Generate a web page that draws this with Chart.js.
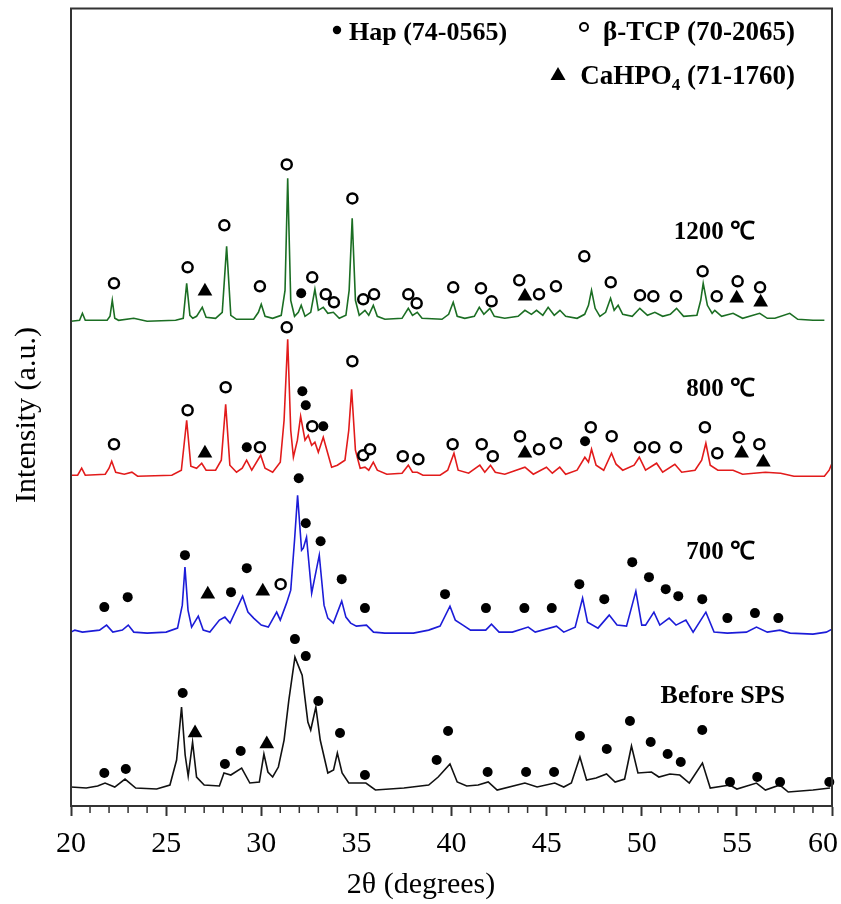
<!DOCTYPE html>
<html>
<head>
<meta charset="utf-8">
<script src="https://cdn.jsdelivr.net/npm/chart.js@4.4.1/dist/chart.umd.min.js"></script>
<style>
html,body{margin:0;padding:0;background:#fff}
canvas{display:block}
</style>
</head>
<body>
<canvas id="xrd" width="841" height="904"></canvas>
<script>
// XRD patterns, 2θ vs intensity (offset stacked, arbitrary units)
const xTicks=[20,25,30,35,40,45,50,55,60];

const tr1200=[[20.0,485],[20.45,486],[20.6,493],[20.75,486],[21.9,486],[22.05,490],[22.17,506],[22.3,488],[22.5,486],[23.3,488],[24.0,485],[25.5,486],[25.9,488],[26.08,523],[26.25,491],[26.4,488],[26.6,490],[26.9,499],[27.1,489],[27.6,488],[27.95,494],[28.18,560],[28.4,491],[28.7,487],[29.6,487],[29.85,494],[30.0,502],[30.2,490],[30.6,488],[31.05,491],[31.25,516],[31.39,628],[31.55,506],[31.75,490],[31.95,494],[32.1,501],[32.3,490],[32.6,494],[32.82,517],[33.0,496],[33.26,499],[33.5,493],[33.79,494],[34.1,488],[34.45,491],[34.62,516],[34.78,588],[34.95,506],[35.15,491],[35.45,496],[35.65,491],[35.89,501],[36.1,490],[36.5,487],[37.4,488],[37.73,498],[37.95,491],[38.2,494],[38.45,488],[39.5,487],[39.85,492],[40.09,504],[40.3,490],[40.7,488],[41.2,490],[41.46,499],[41.7,492],[42.02,498],[42.25,490],[42.8,488],[43.5,490],[43.86,496],[44.2,492],[44.47,496],[44.8,491],[45.08,499],[45.4,491],[45.7,496],[46.0,490],[46.6,488],[47.0,492],[47.2,501],[47.36,516],[47.55,498],[47.8,490],[48.1,494],[48.36,508],[48.55,496],[48.76,501],[49.0,492],[49.5,490],[49.9,498],[50.3,491],[50.69,494],[51.1,490],[51.5,492],[51.83,498],[52.2,490],[52.9,491],[53.1,506],[53.23,523],[53.45,501],[53.7,493],[53.84,496],[54.2,490],[54.8,493],[55.3,488],[56.2,493],[56.6,488],[57.0,488],[57.78,493],[58.2,487],[59.0,486],[59.6,486]];

const tr800=[[20.0,331],[20.35,331],[20.56,338],[20.75,331],[21.8,332],[22.0,338],[22.14,345],[22.35,334],[22.8,332],[23.2,334],[23.5,330],[25.3,331],[25.8,336],[26.08,386],[26.3,340],[26.6,338],[26.87,343],[27.1,336],[27.6,336],[27.9,346],[28.13,402],[28.35,341],[28.7,334],[29.0,338],[29.23,346],[29.5,336],[29.97,351],[30.2,338],[30.6,334],[31.0,344],[31.2,386],[31.39,467],[31.55,376],[31.69,349],[31.9,366],[32.07,390],[32.3,366],[32.47,371],[32.65,361],[32.82,364],[33.0,354],[33.26,369],[33.45,356],[33.7,339],[34.0,341],[34.4,346],[34.6,376],[34.75,417],[34.95,356],[35.2,338],[35.45,339],[35.65,336],[35.89,344],[36.1,336],[36.6,332],[37.4,333],[37.73,341],[37.95,334],[38.2,334],[38.5,331],[39.4,331],[39.8,336],[40.13,353],[40.35,336],[40.9,333],[41.49,341],[41.75,334],[42.05,341],[42.3,334],[42.8,332],[43.86,339],[44.3,332],[44.99,339],[45.3,333],[45.69,339],[46.0,332],[46.6,336],[47.01,349],[47.2,344],[47.36,357],[47.6,341],[48.0,336],[48.41,353],[48.65,342],[49.0,336],[49.6,341],[49.87,349],[50.2,336],[50.78,343],[51.1,334],[51.74,342],[52.1,334],[52.8,336],[53.15,346],[53.37,363],[53.6,341],[54.0,336],[54.8,336],[55.3,332],[56.5,334],[57.3,333],[58.0,330],[59.6,330],[59.85,336],[60.0,343]];

const tr700=[[20.0,174],[20.2,176],[20.6,174],[21.5,176],[21.87,181],[22.2,174],[22.7,176],[23.01,181],[23.3,174],[24.0,173],[25.0,174],[25.6,178],[25.85,201],[25.99,239],[26.15,196],[26.34,179],[26.69,190],[26.95,176],[27.3,174],[27.8,186],[28.09,189],[28.36,183],[29.02,210],[29.3,194],[29.6,188],[30.0,181],[30.37,179],[30.81,194],[31.0,186],[31.33,203],[31.55,216],[31.75,266],[31.91,311],[32.12,256],[32.21,258],[32.38,269],[32.65,213],[33.05,251],[33.3,201],[33.5,188],[33.79,183],[34.23,205],[34.45,189],[34.7,183],[35.0,180],[35.53,181],[35.9,174],[36.5,173],[38.0,173],[38.8,176],[39.4,180],[39.92,200],[40.2,186],[40.6,181],[41.0,176],[41.8,176],[42.1,182],[42.5,174],[43.2,174],[44.03,179],[44.4,174],[45.52,180],[45.9,174],[46.5,179],[46.89,208],[47.15,184],[47.7,178],[48.29,191],[48.7,181],[49.2,180],[49.69,215],[50.0,181],[50.2,181],[50.64,194],[50.95,181],[51.44,188],[51.8,181],[52.32,186],[52.7,174],[53.37,194],[53.8,174],[54.5,173],[55.5,174],[56.03,179],[56.6,174],[57.26,176],[57.8,173],[59.0,172],[59.7,174],[60.0,177]];

const trBefore=[[20.0,19],[20.8,18],[21.4,20],[21.79,23],[22.3,19],[22.84,27],[23.4,18],[24.5,17],[25.2,21],[25.55,46],[25.81,99],[26.0,51],[26.16,30],[26.39,64],[26.6,29],[27.0,21],[27.8,20],[28.04,33],[28.4,31],[28.97,38],[29.4,23],[29.9,24],[30.14,52],[30.35,34],[30.6,29],[30.9,39],[31.2,66],[31.45,106],[31.77,149],[32.0,138],[32.15,131],[32.45,84],[32.6,76],[32.87,99],[33.1,66],[33.5,33],[33.8,36],[34.0,53],[34.25,33],[34.6,23],[35.5,23],[36.0,16],[37.5,18],[38.8,21],[39.3,29],[39.92,42],[40.3,24],[40.8,20],[41.4,21],[41.93,24],[42.4,16],[43.86,23],[44.5,19],[45.43,23],[45.9,19],[46.3,23],[46.75,49],[47.1,26],[47.6,28],[48.15,32],[48.6,24],[49.1,27],[49.46,60],[49.8,33],[50.51,34],[50.9,29],[51.48,32],[52.0,31],[52.5,23],[53.19,43],[53.6,18],[54.63,21],[55.0,17],[56.03,23],[56.5,16],[57.26,21],[57.7,14],[59.0,16],[59.9,18]];

// phase markers: Hap = filled circle, β-TCP = open circle, CaHPO4 = triangle
const hapMarks=[[32.10,513],
  [29.24,359],[32.16,415],[32.34,401],[33.26,380],[47.02,365],
  [21.75,199],[22.98,209],[25.99,251],[28.41,214],[29.24,238],[31.97,328],[32.34,283],[33.12,265],[34.23,227],[35.45,198],[39.66,212],[41.81,198],[43.83,198],[45.27,198],[46.72,222],[48.03,207],[49.50,244],[50.38,229],[51.26,217],[51.92,210],[53.18,207],[54.50,188],[55.95,193],[57.18,188],
  [21.75,33],[22.88,37],[25.87,113],[28.09,42],[28.92,55],[31.77,167],[32.34,150],[33.00,105],[34.14,73],[35.45,31],[39.22,46],[39.82,75],[41.90,34],[43.92,34],[45.39,34],[46.75,70],[48.16,57],[49.38,85],[50.47,64],[51.36,52],[52.05,44],[53.18,76],[54.64,24],[56.07,29],[57.27,24],[59.86,24]];

const tcpMarks=[[22.26,523],[26.13,539],[28.06,581],[29.93,520],[31.34,642],[32.68,529],[33.39,512],[33.82,504],[34.79,608],[35.36,507],[35.93,512],[37.73,512],[38.17,503],[40.09,519],[41.55,518],[42.11,505],[43.56,526],[44.60,512],[45.49,520],[46.98,550],[48.37,524],[49.91,511],[50.61,510],[51.80,510],[53.20,535],[53.94,510],[55.04,525],[56.22,519],
  [22.26,362],[26.13,396],[28.13,419],[29.93,359],[31.34,479],[32.68,380],[34.79,445],[35.36,351],[35.72,357],[37.44,350],[38.26,347],[40.06,362],[41.59,362],[42.17,350],[43.60,370],[44.60,357],[45.49,363],[47.32,379],[48.42,370],[49.91,359],[50.66,359],[51.80,359],[53.32,379],[53.97,353],[55.11,369],[56.18,362],
  [31.02,222]];

const dcpMarks=[[27.04,515],[43.86,510],[54.99,508],[56.25,504],
  [27.04,353],[43.86,353],[55.25,353],[56.39,344],
  [27.19,212],[30.08,215],
  [26.52,73],[30.29,62]];

const traceColors=["#1b6e23","#e21b1b","#1c1cd8","#111111"];
const sampleLabels=[["1200 ℃",755,233],["800 ℃",755,390],["700 ℃",755,553],["Before SPS",785,696]];

const SERIF='"Liberation Serif","Times New Roman",serif';
const pts=a=>a.map(([x,y])=>({x,y}));

function lineSet(d,c){return{data:pts(d),showLine:true,borderColor:c,borderWidth:1.6,pointRadius:0,tension:0,fill:false,order:2}}

const ds=[
  lineSet(tr1200,traceColors[0]),lineSet(tr800,traceColors[1]),lineSet(tr700,traceColors[2]),lineSet(trBefore,traceColors[3]),
  {data:pts(hapMarks),pointStyle:"circle",pointRadius:5,backgroundColor:"#000",borderWidth:0,showLine:false,clip:false,order:0},
  {data:pts(tcpMarks),pointStyle:"circle",pointRadius:5,backgroundColor:"#fff",borderColor:"#000",borderWidth:2.5,showLine:false,clip:false,order:0},
  {data:pts(dcpMarks),pointStyle:"triangle",pointRadius:8.5,backgroundColor:"#000",borderWidth:0,showLine:false,clip:false,order:0}
];

const decor={id:"decor",afterDraw(chart){
  const {ctx,chartArea:a,scales:{x}}=chart;
  ctx.save();
  // frame
  ctx.strokeStyle="#333";ctx.lineWidth=2;
  ctx.strokeRect(a.left,a.top,a.right-a.left,a.bottom-a.top);
  // minor ticks
  ctx.lineWidth=1.5;
  for(let d=21;d<60;d++){if(d%5===0)continue;const px=x.getPixelForValue(d);ctx.beginPath();ctx.moveTo(px,a.bottom);ctx.lineTo(px,a.bottom+7);ctx.stroke()}
  // tick labels (last one kept inside the canvas)
  ctx.fillStyle="#000";ctx.font="30px "+SERIF;ctx.textAlign="center";ctx.textBaseline="middle";
  xTicks.forEach(v=>{const w=ctx.measureText(String(v)).width;let px=x.getPixelForValue(v);if(px+w/2>838)px=838-w/2;ctx.fillText(String(v),px,844)});
  // legend
  ctx.beginPath();ctx.arc(337,30,4.2,0,Math.PI*2);ctx.fill();
  ctx.beginPath();ctx.arc(584,27,4,0,Math.PI*2);ctx.strokeStyle="#000";ctx.lineWidth=2;ctx.stroke();
  ctx.beginPath();ctx.moveTo(558,67);ctx.lineTo(565.5,80);ctx.lineTo(550.5,80);ctx.closePath();ctx.fill();
  ctx.font="bold 26px "+SERIF;ctx.textBaseline="alphabetic";
  ctx.textAlign="left";ctx.fillText("Hap (74-0565)",349,40);
  ctx.textAlign="right";ctx.font="bold 27px "+SERIF;ctx.fillText("β-TCP (70-2065)",795,40);
  // CaHPO4 with subscript
  const t1="CaHPO",t2="4",t3=" (71-1760)";
  ctx.font="bold 27px "+SERIF;const w1=ctx.measureText(t1).width,w3=ctx.measureText(t3).width;
  ctx.font="bold 17px "+SERIF;const w2=ctx.measureText(t2).width;
  const sx=795-w1-w2-w3;
  ctx.textAlign="left";ctx.font="bold 27px "+SERIF;ctx.fillText(t1,sx,84);
  ctx.font="bold 17px "+SERIF;ctx.fillText(t2,sx+w1,90);
  ctx.font="bold 27px "+SERIF;ctx.fillText(t3,sx+w1+w2,84);
  // sample labels
  ctx.textAlign="right";ctx.textBaseline="middle";
  sampleLabels.forEach(([t,lx,ly],i)=>{ctx.font="bold "+(i===3?26:25)+"px "+SERIF;ctx.fillText(t,lx,ly)});
  // axis titles
  ctx.font="30px "+SERIF;ctx.textAlign="center";
  ctx.fillText("2θ (degrees)",421,885);
  ctx.translate(27,415);ctx.rotate(-Math.PI/2);ctx.fillText("Intensity (a.u.)",0,0);
  ctx.restore();
}};

new Chart(document.getElementById("xrd"),{type:"scatter",data:{datasets:ds},
  options:{responsive:false,animation:false,events:[],
    layout:{padding:{left:71,right:9,top:8,bottom:0}},
    plugins:{legend:{display:false},tooltip:{enabled:false}},
    scales:{
      x:{type:"linear",min:20,max:60,
        afterBuildTicks:s=>{s.ticks=xTicks.map(v=>({value:v}))},
        ticks:{display:false},
        grid:{drawOnChartArea:false,tickLength:10,tickColor:"#333",tickWidth:2},
        border:{color:"#333",width:2},
        afterFit:s=>{s.height=98;s.paddingLeft=0;s.paddingRight=0}},
      y:{display:false,min:0,max:798}
    }},
  plugins:[decor]});
</script>
</body>
</html>
